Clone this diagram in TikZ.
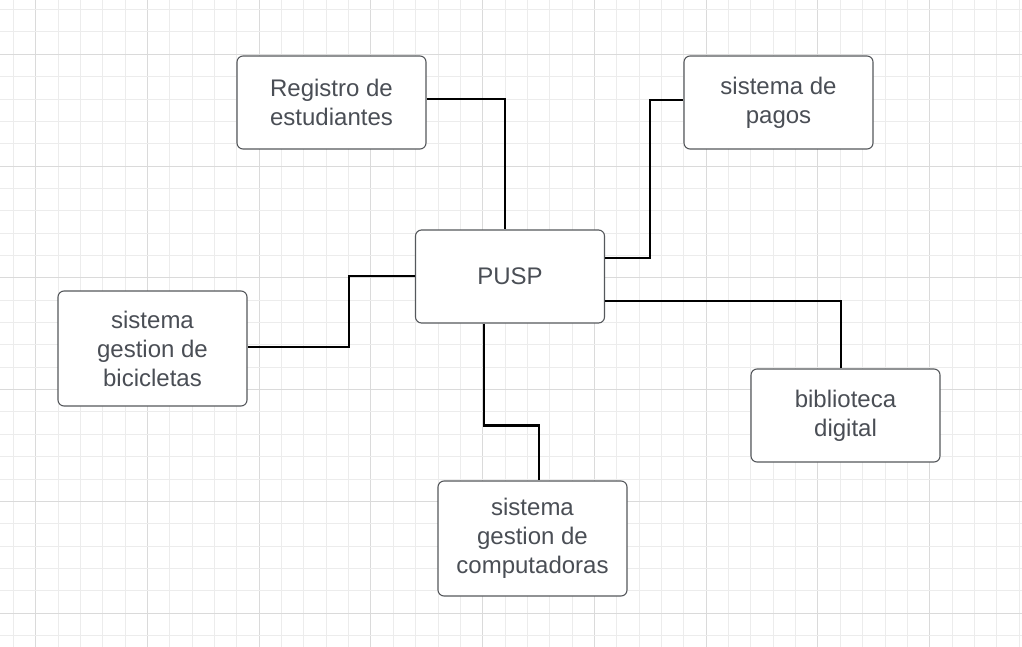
\documentclass[tikz,border=0pt]{standalone}
\usepackage{fontspec}
\setmainfont{Liberation Sans}
\definecolor{boxtext}{HTML}{4A4E55}
\definecolor{boxline}{HTML}{55585C}
\definecolor{gridminor}{HTML}{ECECEC}
\definecolor{gridmajor}{HTML}{DADADA}
\begin{document}
\begin{tikzpicture}[x=1pt,y=-1pt,line cap=rect,
		sysbox/.style={draw=boxline,line width=1.1pt,rounded corners=6pt,fill=white,
			minimum width=189pt,minimum height=93pt,inner sep=0pt,align=center,
			text=boxtext,font=\fontsize{24}{29}\selectfont},
		tallbox/.style={sysbox,minimum height=115pt},
		link/.style={line width=2.4pt,color=black,line cap=butt}]
		\useasboundingbox (0,0) rectangle (1022,647);
		\fill[white] (0,0) rectangle (1022,647);
		% grid
		\foreach \i in {0,...,45} {
			\pgfmathsetmacro{\gx}{13.3+22.35*\i}
			\pgfmathsetmacro{\gc}{mod(\i,5)==1 ? 1 : 0}
			\ifdim\gc pt>0.5pt
				\draw[gridmajor,line width=0.9pt] (\gx,0) -- (\gx,647);
			\else
				\draw[gridminor,line width=0.9pt] (\gx,0) -- (\gx,647);
			\fi
		}
		\foreach \j in {0,...,28} {
			\pgfmathsetmacro{\gy}{9.6+22.35*\j}
			\pgfmathsetmacro{\gc}{mod(\j,5)==2 ? 1 : 0}
			\ifdim\gc pt>0.5pt
				\draw[gridmajor,line width=0.9pt] (0,\gy) -- (1022,\gy);
			\else
				\draw[gridminor,line width=0.9pt] (0,\gy) -- (1022,\gy);
			\fi
		}
		% boxes
		\node[sysbox] (pusp) at (510,276.5) {PUSP};
		\node[sysbox] (reg) at (331.5,102.5) {Registro de\\estudiantes};
		\node[sysbox] (pagos) at (778.5,102.5) {sistema de\\pagos};
		\node[tallbox] (bici) at (152.5,348.5) {sistema\\gestion de\\bicicletas};
		\node[sysbox] (biblio) at (845.5,415.5) {biblioteca\\digital};
		\node[tallbox] (comp) at (532.5,538.5) {sistema\\gestion de\\computadoras};
		% links
		\draw[link] ([yshift=3.5pt]reg.east) -| ([xshift=-5pt]pusp.north);
		\draw[link] ([yshift=18.5pt]pusp.east) -- ++(45,0) |- ([yshift=2.5pt]pagos.west);
		\draw[link] ([yshift=0.5pt]pusp.west) -- ++(-66,0) |- ([yshift=1.5pt]bici.east);
		\draw[link] ([yshift=-24.5pt]pusp.east) -| ([xshift=-4.5pt]biblio.north);
		\draw[link] ([xshift=-26pt]pusp.south) -- ++(0,102) -| ([xshift=6.5pt]comp.north);
	\end{tikzpicture}
\end{document}
